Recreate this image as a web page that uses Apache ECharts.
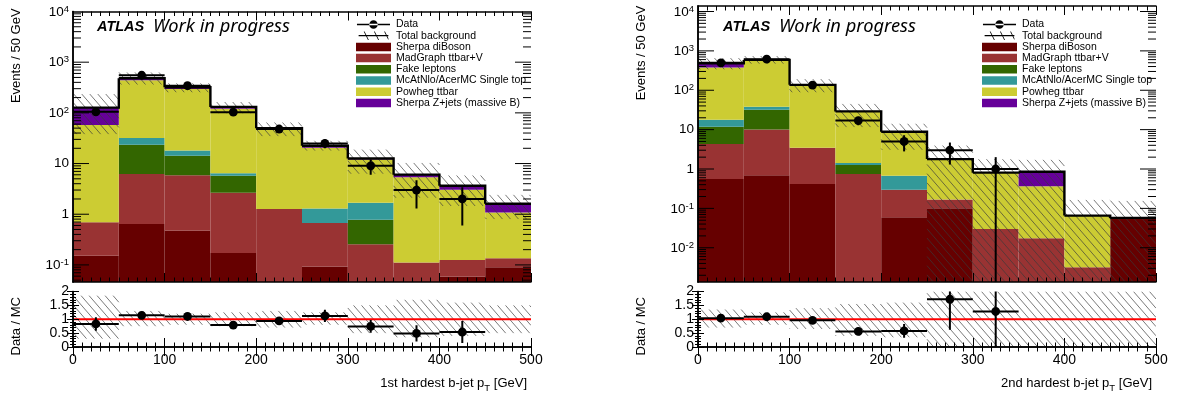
<!DOCTYPE html>
<html><head><meta charset="utf-8">
<script src="https://cdn.jsdelivr.net/npm/echarts@6/dist/echarts.min.js"></script>
<style>html,body{margin:0;padding:0;background:#fff}#c{width:1179px;height:394px}</style>
</head><body><div id="c"></div>
<script>
// ---------------- data ----------------
const binLo = [0, 50, 100, 150, 200, 250, 300, 350, 400, 450];
const binHi = [50, 100, 150, 200, 250, 300, 350, 400, 450, 500];
const compNames = ['Sherpa diBoson', 'MadGraph ttbar+V', 'Fake leptons', 'McAtNlo/AcerMC Single top', 'Powheg ttbar', 'Sherpa Z+jets (massive B)'];
const compColors = ['#660000', '#993333', '#336600', '#339999', '#cccc33', '#660099'];

// 1st hardest b-jet pT
const L_diboson = [0.151, 0.64, 0.48, 0.171, 0, 0.093, 0, 0, 0.059, 0.090];
const L_ttV     = [0.54, 5.56, 5.37, 2.49, 1.27, 0.575, 0.255, 0.112, 0.066, 0.046];
const L_fake    = [0, 17.4, 8.45, 3.11, 0, 0, 0.52, 0, 0, 0];
const L_stop    = [0, 8.2, 3.8, 0.63, 0, 0.63, 0.90, 0, 0, 0];
const L_ttbar   = [56.9, 410, 278, 114.6, 45.7, 19.2, 10.4, 5.24, 2.92, 0.95];
const L_zjets   = [69.4, 41, 23, 10, 2.7, 2.0, 0.5, 0.69, 0.59, 0.52];
const L_data    = [105, 552, 343, 103, 48, 25, 9, 3, 2, null];
const L_dataErr = [10.2, 23.5, 18.5, 10.1, 6.9, 5.0, 3.0, 1.7, 1.4, null];
const L_bandLo  = [0.3, 0.75, 0.8, 0.75, 0.7, 0.8, 0.5, 0.35, 0.4, 0.5];
const L_bandHi  = [1.85, 1.3, 1.2, 1.25, 1.3, 1.25, 1.5, 1.7, 1.6, 1.5];
const L_ratio   = [0.83, 1.14, 1.10, 0.79, 0.94, 1.12, 0.74, 0.49, 0.54, null];
const L_ratioErr= [0.24, 0.05, 0.06, 0.08, 0.14, 0.22, 0.23, 0.29, 0.40, null];

// 2nd hardest b-jet pT
const R_diboson = [0.558, 0.69, 0.417, 0, 0.0596, 0.101, 0, 0, 0, 0.0573];
const R_ttV     = [3.74, 9.41, 3.05, 0.747, 0.239, 0.066, 0.0301, 0.0175, 0.00322, 0];
const R_fake    = [7.5, 21.8, 0, 0.51, 0, 0, 0, 0, 0, 0];
const R_stop    = [6.0, 6.1, 0, 0.16, 0.379, 0, 0, 0, 0, 0];
const R_ttbar   = [360, 552, 133.5, 27.6, 8.12, 1.62, 0.777, 0.346, 0.0624, 0];
const R_zjets   = [108, 0, 0, 0, 0, 0, 0, 0.491, 0, 0];
const R_data    = [496, 614, 135, 17, 5, 3, 1, null, null, null];
const R_dataErr = [22.3, 24.8, 11.6, 4.1, 2.2, 1.7, 1.0, null, null, null];
const R_bandLo  = [0.7, 0.8, 0.65, 0.4, 0.35, 0, 0, 0, 0, 0];
const R_bandHi  = [1.35, 1.25, 1.4, 1.55, 1.6, 2.2, 2.2, 2.0, 2.5, 2.7];
const R_ratio   = [1.04, 1.09, 0.96, 0.56, 0.58, 1.72, 1.28, null, null, null];
const R_ratioErr= [0.05, 0.05, 0.09, 0.14, 0.25, 1.1, 1.3, null, null, null];

const xTitles = ['1st hardest b-jet p{s|T} [GeV]', '2nd hardest b-jet p{s|T} [GeV]'];
// --------------------------------------

const FONT = 'Liberation Sans';
const plots = [
  { comps: [L_diboson, L_ttV, L_fake, L_stop, L_ttbar, L_zjets], data: L_data, dataErr: L_dataErr,
    bandLo: L_bandLo, bandHi: L_bandHi, ratio: L_ratio, ratioErr: L_ratioErr,
    ymin: 0.046, ymax: 1e4, left: 73, top: 6, title: xTitles[0], legendLeft: 351, atlasX: 97 },
  { comps: [R_diboson, R_ttV, R_fake, R_stop, R_ttbar, R_zjets], data: R_data, dataErr: R_dataErr,
    bandLo: R_bandLo, bandHi: R_bandHi, ratio: R_ratio, ratioErr: R_ratioErr,
    ymin: 0.00135, ymax: 13800, left: 698, top: 5, title: xTitles[1], legendLeft: 977, atlasX: 723 }
];
const PW = 458, MAIN_BOTTOM = 282, R_TOP = 291.5, R_H = 55.5;

function hatchLines(x0, y0, x1, y1, d, s) {
  const out = [];
  const D = d * s;
  const cMin = y0 - s * x1, cMax = y1 - s * x0;
  for (let k = Math.ceil(cMin / D); k * D <= cMax; k++) {
    const c = k * D;
    const xa = Math.max(x0, (y0 - c) / s), xb = Math.min(x1, (y1 - c) / s);
    if (xb - xa < 0.3) continue;
    out.push({ type: 'line', shape: { x1: xa, y1: s * xa + c, x2: xb, y2: s * xb + c },
      style: { stroke: '#3a3a3a', lineWidth: 0.8, opacity: 0.85 } });
  }
  return out;
}
function rectRender(color) {
  return function (params, api) {
    const p0 = api.coord([api.value(0), api.value(2)]);
    const p1 = api.coord([api.value(1), api.value(3)]);
    return { type: 'rect', shape: { x: p0[0], y: p1[1], width: p1[0] - p0[0], height: p0[1] - p1[1] },
      style: { fill: color, stroke: null } };
  };
}
function hatchRender(params, api) {
  const cs = params.coordSys;
  const p0 = api.coord([api.value(0), api.value(2)]);
  const p1 = api.coord([api.value(1), api.value(3)]);
  const y0 = Math.max(p1[1], cs.y), y1 = Math.min(p0[1], cs.y + cs.height);
  if (y1 <= y0) return null;
  return { type: 'group', children: hatchLines(p0[0], y0, p1[0], y1, 8, 1.15) };
}
function stepRender(params, api) {
  const a = api.coord([api.value(0), api.value(2)]);
  const b = api.coord([api.value(1), api.value(2)]);
  const pts = [a, b];
  const nxt = api.value(3);
  if (nxt > 0) pts.push(api.coord([api.value(1), nxt]));
  return { type: 'polyline', shape: { points: pts }, style: { stroke: '#000', lineWidth: 2.4, fill: null } };
}
function pointRender(ymin) {
  return function (params, api) {
    const x = api.value(0), y = api.value(1), ex = api.value(2), ey = api.value(3);
    const c = api.coord([x, y]);
    const l = api.coord([x - ex, y]), r = api.coord([x + ex, y]);
    const lo = Math.max(y - ey, ymin);
    const top = api.coord([x, y + ey]), bot = api.coord([x, lo]);
    return { type: 'group', children: [
      { type: 'line', shape: { x1: l[0], y1: c[1], x2: r[0], y2: c[1] }, style: { stroke: '#000', lineWidth: 2 } },
      { type: 'line', shape: { x1: c[0], y1: top[1], x2: c[0], y2: bot[1] }, style: { stroke: '#000', lineWidth: 2 } },
      { type: 'circle', shape: { cx: c[0], cy: c[1], r: 4.4 }, style: { fill: '#000' } }
    ] };
  };
}
function logTickRender(params, api) {
  const cs = params.coordSys;
  const p = api.coord([0, api.value(1)]);
  const L = api.value(2);
  return { type: 'group', children: [
    { type: 'line', shape: { x1: cs.x, y1: p[1], x2: cs.x + L, y2: p[1] }, style: { stroke: '#000', lineWidth: 1 } },
    { type: 'line', shape: { x1: cs.x + cs.width, y1: p[1], x2: cs.x + cs.width - L, y2: p[1] }, style: { stroke: '#000', lineWidth: 1 } }
  ] };
}
function logLabel(v) {
  const lg = Math.log10(v), e = Math.round(lg);
  if (Math.abs(lg - e) > 1e-6) return '';
  if (e === 0) return '{b|1}';
  if (e === 1) return '{b|10}';
  return '{a|10}{s|' + e + '}';
}

const grid = [], xAxis = [], yAxis = [], series = [], legend = [], graphic = [];
plots.forEach((P, p) => {
  const gi = 2 * p;
  grid.push({ left: P.left, top: P.top, width: PW, height: MAIN_BOTTOM - P.top, show: false });
  grid.push({ left: P.left, top: R_TOP, width: PW, height: R_H, show: false });
  const axLine = { show: true, lineStyle: { color: '#000', width: 1.5 } };
  const xCommon = { type: 'value', min: 0, max: 500, interval: 100, z: 10, axisLine: axLine, splitLine: { show: false },
    axisTick: { inside: true, length: 9, lineStyle: { color: '#000' } },
    minorTick: { show: true, splitNumber: 10, length: 4.5, lineStyle: { color: '#000' } } };
  xAxis.push(Object.assign({}, xCommon, { gridIndex: gi, position: 'bottom', axisLabel: { show: false } }));
  xAxis.push(Object.assign({}, xCommon, { gridIndex: gi, position: 'top', axisLabel: { show: false } }));
  xAxis.push(Object.assign({}, xCommon, { gridIndex: gi + 1, position: 'bottom',
    axisLabel: { show: true, margin: 6, fontSize: 14, fontFamily: FONT, color: '#000' },
    name: P.title, nameLocation: 'end', nameGap: -4,
    nameTextStyle: { fontSize: 13, fontFamily: FONT, color: '#000', align: 'right', verticalAlign: 'top', padding: [27, 0, 0, 0],
      rich: { s: { fontSize: 9.5, fontFamily: FONT, color: '#000', padding: [9, 0, 0, 0] } } } }));
  xAxis.push(Object.assign({}, xCommon, { gridIndex: gi + 1, position: 'top', axisLabel: { show: false } }));

  const yLog = { type: 'log', logBase: 10, min: P.ymin, max: P.ymax, z: 10, axisLine: axLine, splitLine: { show: false },
    axisTick: { show: false } };
  yAxis.push(Object.assign({}, yLog, { gridIndex: gi, position: 'left',
    axisLabel: { show: true, margin: 4, formatter: logLabel, fontSize: 13.5, fontFamily: FONT, color: '#000', showMinLabel: false,
      rich: { a: { fontSize: 13.5, fontFamily: FONT, color: '#000', lineHeight: 15, verticalAlign: 'bottom', padding: [5, 0, 0, 0] },
              b: { fontSize: 13.5, fontFamily: FONT, color: '#000', lineHeight: 15 },
              s: { fontSize: 9.5, fontFamily: FONT, color: '#000', lineHeight: 11, verticalAlign: 'top' } } },
    name: 'Events / 50 GeV', nameLocation: 'middle', nameRotate: 90, nameGap: 50,
    nameTextStyle: { fontSize: 13, fontFamily: FONT, color: '#000', padding: [0, 0, 0, 182] } }));
  yAxis.push(Object.assign({}, yLog, { gridIndex: gi, position: 'right', axisLabel: { show: false } }));
  const yR = { type: 'value', min: 0, max: 2, interval: 0.5, z: 10, axisLine: axLine, splitLine: { show: false },
    axisTick: { inside: true, length: 6, lineStyle: { color: '#000' } },
    minorTick: { show: true, splitNumber: 5, length: 3, lineStyle: { color: '#000' } } };
  yAxis.push(Object.assign({}, yR, { gridIndex: gi + 1, position: 'left',
    axisLabel: { show: true, margin: 4, fontSize: 14, fontFamily: FONT, color: '#000' },
    name: 'Data / MC', nameLocation: 'middle', nameRotate: 90, nameGap: 50,
    nameTextStyle: { fontSize: 13, fontFamily: FONT, color: '#000', padding: [0, 14, 0, 0] } }));
  yAxis.push(Object.assign({}, yR, { gridIndex: gi + 1, position: 'right', axisLabel: { show: false } }));

  const xm = 4 * p, ym = 4 * p, xr = 4 * p + 2, yr = 4 * p + 2;
  // stacked components
  const cum = binLo.map(() => 0);
  const totals = binLo.map((_, i) => P.comps.reduce((s, c) => s + c[i], 0));
  P.comps.forEach((comp, c) => {
    const d = [];
    binLo.forEach((x0, i) => {
      const lo = cum[i] > 0 ? cum[i] : P.ymin;
      if (comp[i] > 0) d.push([x0, binHi[i], lo, cum[i] + comp[i]]);
      cum[i] += comp[i];
    });
    series.push({ type: 'custom', name: compNames[c], xAxisIndex: xm, yAxisIndex: ym, z: 2, clip: true,
      itemStyle: { color: compColors[c] }, encode: { x: [0, 1], y: [2, 3] }, renderItem: rectRender(compColors[c]), data: d, silent: true });
  });
  // uncertainty band
  const band = [];
  binLo.forEach((x0, i) => band.push([x0, binHi[i], Math.max(totals[i] * P.bandLo[i], P.ymin), totals[i] * P.bandHi[i]]));
  series.push({ type: 'custom', name: 'Total background', xAxisIndex: xm, yAxisIndex: ym, z: 3, clip: true,
    itemStyle: { color: '#000' }, encode: { x: [0, 1], y: [2, 3] }, renderItem: hatchRender, data: band, silent: true });
  // total line
  const step = binLo.map((x0, i) => [x0, binHi[i], totals[i], i < binLo.length - 1 ? totals[i + 1] : 0]);
  series.push({ type: 'custom', name: 'total-line', xAxisIndex: xm, yAxisIndex: ym, z: 4, clip: true,
    encode: { x: [0, 1], y: [2] }, renderItem: stepRender, data: step, silent: true });
  // log-axis ticks (major + minor, ROOT style, inside on both sides)
  const lticks = [];
  for (let e = Math.floor(Math.log10(P.ymin)); e <= Math.ceil(Math.log10(P.ymax)); e++)
    for (let k = 1; k <= 9; k++) { const v = k * Math.pow(10, e); if (v > P.ymin && v < P.ymax * 0.999) lticks.push([0, v, k === 1 ? 16 : 8]); }
  series.push({ type: 'custom', name: 'log-ticks', xAxisIndex: xm, yAxisIndex: ym, z: 6, clip: false,
    encode: { x: 0, y: 1 }, renderItem: logTickRender, data: lticks, silent: true });
  // data points
  const pts = [];
  binLo.forEach((x0, i) => { if (P.data[i] != null) pts.push([(x0 + binHi[i]) / 2, P.data[i], (binHi[i] - x0) / 2, P.dataErr[i]]); });
  series.push({ type: 'custom', name: 'Data', xAxisIndex: xm, yAxisIndex: ym, z: 5, clip: true,
    itemStyle: { color: '#000' }, encode: { x: 0, y: 1 }, renderItem: pointRender(P.ymin), data: pts, silent: true });

  // ratio panel
  const rband = binLo.map((x0, i) => [x0, binHi[i], P.bandLo[i], P.bandHi[i]]);
  series.push({ type: 'custom', name: 'ratio-band', xAxisIndex: xr, yAxisIndex: yr, z: 3, clip: true,
    encode: { x: [0, 1], y: [2, 3] }, renderItem: hatchRender, data: rband, silent: true });
  series.push({ type: 'line', name: 'unity', xAxisIndex: xr, yAxisIndex: yr, z: 4, symbol: 'none',
    lineStyle: { color: '#ff0000', width: 2 }, data: [[0, 1], [500, 1]], silent: true });
  const rpts = [];
  binLo.forEach((x0, i) => { if (P.ratio[i] != null) rpts.push([(x0 + binHi[i]) / 2, P.ratio[i], (binHi[i] - x0) / 2, P.ratioErr[i]]); });
  series.push({ type: 'custom', name: 'ratio-points', xAxisIndex: xr, yAxisIndex: yr, z: 5, clip: true,
    encode: { x: 0, y: 1 }, renderItem: pointRender(-1), data: rpts, silent: true });

  legend.push({ left: P.legendLeft, top: 14, orient: 'vertical', itemWidth: 35, itemHeight: 8.5, itemGap: 0.2,
    selectedMode: false, textStyle: { fontSize: 10.5, fontFamily: FONT, color: '#000', lineHeight: 9.8 },
    data: [
      { name: 'Data', icon: 'path://M0,4.2H35V5.8H0Z M13,5a4.5,4.5 0 1,0 9,0a4.5,4.5 0 1,0 -9,0Z' },
      { name: 'Total background', icon: 'path://M0,4.3H35V5.7H0Z M6,0H7L12,10H11Z M18,0H19L24,10H23Z M30,0H31L35,8V10Z' }
    ].concat(compNames.map(n => ({ name: n, icon: 'rect' }))) });

  graphic.push({ type: 'text', left: P.atlasX, top: 19, style: { text: 'ATLAS', font: 'italic bold 14.5px "Liberation Sans"', fill: '#000' } });
  graphic.push({ type: 'text', left: P.atlasX + 56, top: 18, style: { text: 'Work in progress', font: 'italic 18.3px "Noto Sans"', fill: '#000' } });
});

const chart = echarts.init(document.getElementById('c'), null, { renderer: 'canvas' });
chart.setOption({ animation: false, backgroundColor: '#fff', grid, xAxis, yAxis, series, legend, graphic });
</script></body></html>
